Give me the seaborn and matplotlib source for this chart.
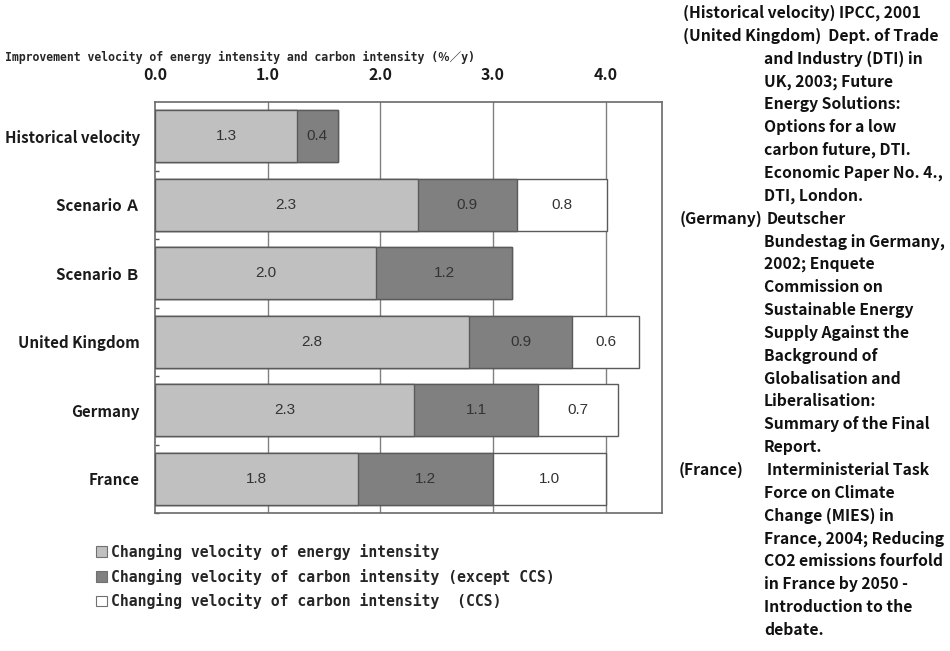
import matplotlib
matplotlib.use("Agg")
import matplotlib.pyplot as plt
from matplotlib.patches import Patch
import seaborn as sns
import pandas as pd
import numpy as np

categories = ["Historical velocity", "Scenario Ａ", "Scenario Ｂ",
              "United Kingdom", "Germany", "France"]
energy = [1.26, 2.33, 1.96, 2.79, 2.30, 1.80]
carbon = [0.36, 0.88, 1.21, 0.91, 1.10, 1.20]
ccs = [0.0, 0.80, 0.0, 0.60, 0.71, 1.00]
xticks = [0.0, 1.0, 2.0, 3.0, 4.0]
series_names = ["Changing velocity of energy intensity",
                "Changing velocity of carbon intensity (except CCS)",
                "Changing velocity of carbon intensity  (CCS)"]
title = "Improvement velocity of energy intensity and carbon intensity (％／y)"

sources = [
    (0, "(Historical velocity) IPCC, 2001"),
    (0, "(United Kingdom)  Dept. of Trade"),
    (1, "and Industry (DTI) in"),
    (1, "UK, 2003; Future"),
    (1, "Energy Solutions:"),
    (1, "Options for a low"),
    (1, "carbon future, DTI."),
    (1, "Economic Paper No. 4.,"),
    (1, "DTI, London."),
    (0, "(Germany)"),
    (1, "Bundestag in Germany,"),
    (1, "2002; Enquete"),
    (1, "Commission on"),
    (1, "Sustainable Energy"),
    (1, "Supply Against the"),
    (1, "Background of"),
    (1, "Globalisation and"),
    (1, "Liberalisation:"),
    (1, "Summary of the Final"),
    (1, "Report."),
    (0, "(France)"),
    (1, "Force on Climate"),
    (1, "Change (MIES) in"),
    (1, "France, 2004; Reducing"),
    (1, "CO2 emissions fourfold"),
    (1, "in France by 2050 -"),
    (1, "Introduction to the"),
    (1, "debate."),
]
inline_after = {9: "Deutscher", 20: "Interministerial Task"}

sns.set_theme(style="white")
SANS = ["Noto Sans CJK JP", "DejaVu Sans"]
MONO = ["DejaVu Sans Mono", "Noto Sans CJK JP"]
plt.rcParams["font.family"] = SANS

df = pd.DataFrame({"cat": categories, "energy": energy,
                   "carbon": carbon, "ccs": ccs})
df["c1"] = df["energy"]
df["c2"] = df["energy"] + df["carbon"]
df["c3"] = df["c2"] + df["ccs"]

colors = ["#c0c0c0", "#808080", "#ffffff"]
edge = "#5a5a5a"

fig = plt.figure(figsize=(9.5, 6.51), dpi=100)
ax = fig.add_axes([155/950, 1-513/651, (662-155)/950, (513-102)/651])

for col, c in zip(["c3", "c2", "c1"], colors[::-1]):
    sns.barplot(data=df, y="cat", x=col, orient="h", color=c, width=0.76,
                edgecolor=edge, linewidth=1.0, saturation=1, ax=ax, zorder=3)

ax.set_xlim(0, 4.5)
ax.set_ylim(len(categories)-0.5, -0.5)
ax.set_xticks(xticks)
ax.set_xticklabels([f"{v:.1f}" for v in xticks], fontsize=11.5,
                   color="#1a1a1a", fontweight="bold")
ax.xaxis.tick_top()
ax.tick_params(axis="x", length=0, pad=14)
ax.tick_params(axis="y", length=0, pad=11)
for lab in ax.get_yticklabels():
    lab.set_fontsize(10.9)
    lab.set_fontweight("bold")
    lab.set_color("#1a1a1a")
ax.set_xlabel("")
ax.set_ylabel("")
ax.set_yticks(np.arange(len(categories)) + 0.5, minor=True)
ax.tick_params(axis="y", which="minor", direction="in", length=3,
               width=1, color="#555555", left=True)
for v in xticks[1:]:
    ax.axvline(v, color="#808080", lw=1.0, zorder=1)
for s in ax.spines.values():
    s.set_color("#6a6a6a")
    s.set_linewidth(1.2)
    s.set_visible(True)

# value labels
for i in range(len(categories)):
    segs = [(0, energy[i]), (energy[i], carbon[i]),
            (energy[i] + carbon[i], ccs[i])]
    for start, w in segs:
        if w > 0:
            ax.text(start + w/2, i, f"{w:.1f}", ha="center", va="center",
                    fontsize=11, color="#333333", family="Liberation Sans",
                    zorder=5)

fig.text(5/950, 1-57/651, title, ha="left", va="center", fontsize=8.3,
         fontweight="bold", family=MONO)

handles = [Patch(facecolor=c, edgecolor="#707070", linewidth=0.8)
           for c in colors]
leg = fig.legend(handles, series_names, loc="upper left",
                 bbox_to_anchor=(96/950, 1-544/651), frameon=False,
                 handlelength=0.75, handleheight=0.75, handletextpad=0.3,
                 labelspacing=0.58, borderaxespad=0, borderpad=0,
                 prop={"family": MONO, "weight": "bold", "size": 10.6})

y0 = 13
dy = 22.85
fs = 11.3
for k, (indent, txt) in enumerate(sources):
    x = 683 if indent == 0 else 764
    if k == 20:
        x = 679
    if k == 9:
        x = 680
    fig.text(x/950, 1-(y0 + k*dy)/651, txt, ha="left", va="center",
             fontsize=fs, fontweight="bold", color="#111111")
    if k in inline_after:
        fig.text(767/950, 1-(y0 + k*dy)/651, inline_after[k], ha="left",
                 va="center", fontsize=fs, fontweight="bold", color="#111111")

fig.savefig("out.png", dpi=100)
